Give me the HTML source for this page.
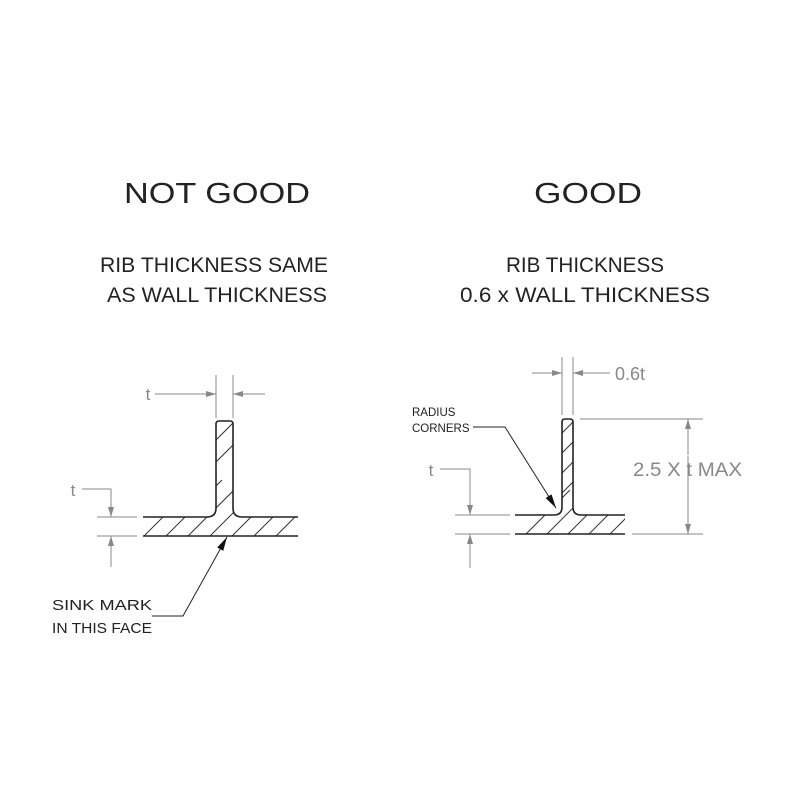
<!DOCTYPE html>
<html><head><style>html,body{margin:0;padding:0;background:#fff}svg{display:block}</style></head><body>
<svg width="800" height="800" viewBox="0 0 800 800" xmlns="http://www.w3.org/2000/svg" font-family="Liberation Sans, sans-serif">
<defs>
<marker id="a" viewBox="0 0 10 6" refX="10" refY="3" markerWidth="10" markerHeight="6" orient="auto" markerUnits="userSpaceOnUse"><path d="M0,0 L10,3 L0,6 z" fill="#888"/></marker>
<marker id="b" viewBox="0 0 14 7" refX="14" refY="3.5" markerWidth="14" markerHeight="7" orient="auto" markerUnits="userSpaceOnUse"><path d="M0,0 L14,3.5 L0,7 z" fill="#111"/></marker>
<clipPath id="c1"><path d="M143,517 H207 Q216,517 216,508 V424 Q216,421 219,421 H230 Q233,421 233,424 V508 Q233,517 242,517 H298 V536 H143 Z"/></clipPath>
<clipPath id="c2"><path d="M515,515 H554 Q562,515 562,507 V422 Q562,419 565,419 H570 Q573,419 573,422 V507 Q573,515 581,515 H625 V534 H515 Z"/></clipPath>
</defs>
<g fill="#222">
<text x="217" y="203" font-size="29" text-anchor="middle" textLength="186" lengthAdjust="spacingAndGlyphs">NOT GOOD</text>
<text x="588" y="203" font-size="29" text-anchor="middle" textLength="108" lengthAdjust="spacingAndGlyphs">GOOD</text>
<text x="214" y="272" font-size="21" text-anchor="middle" textLength="228" lengthAdjust="spacingAndGlyphs">RIB THICKNESS SAME</text>
<text x="217" y="302" font-size="21" text-anchor="middle" textLength="220" lengthAdjust="spacingAndGlyphs">AS WALL THICKNESS</text>
<text x="585" y="272" font-size="21" text-anchor="middle" textLength="158" lengthAdjust="spacingAndGlyphs">RIB THICKNESS</text>
<text x="585" y="302" font-size="21" text-anchor="middle" textLength="250" lengthAdjust="spacingAndGlyphs">0.6 x WALL THICKNESS</text>
<text x="52" y="610" font-size="15" textLength="100" lengthAdjust="spacingAndGlyphs">SINK MARK</text>
<text x="52" y="633" font-size="15" textLength="100" lengthAdjust="spacingAndGlyphs">IN THIS FACE</text>
<text x="412" y="416" font-size="11.5">RADIUS</text>
<text x="412" y="432" font-size="11.5">CORNERS</text>
</g>
<g fill="#888">
<text x="148" y="400" font-size="17" text-anchor="middle">t</text>
<text x="73" y="496" font-size="17" text-anchor="middle">t</text>
<text x="431" y="476" font-size="17" text-anchor="middle">t</text>
<text x="615" y="380" font-size="18">0.6t</text>
</g>
<g clip-path="url(#c1)" stroke="#333" stroke-width="1">
<line x1="120" y1="560" x2="200" y2="480"/><line x1="142" y1="560" x2="222" y2="480"/><line x1="164" y1="560" x2="244" y2="480"/><line x1="186" y1="560" x2="266" y2="480"/><line x1="208" y1="560" x2="288" y2="480"/><line x1="230" y1="560" x2="310" y2="480"/><line x1="252" y1="560" x2="332" y2="480"/><line x1="274" y1="560" x2="354" y2="480"/><line x1="296" y1="560" x2="376" y2="480"/>
<line x1="180" y1="498" x2="260" y2="418"/><line x1="180" y1="476" x2="260" y2="396"/><line x1="180" y1="454" x2="260" y2="374"/><line x1="180" y1="432" x2="260" y2="352"/>
</g>
<path d="M143,517 H207 Q216,517 216,508 V424 Q216,421 219,421 H230 Q233,421 233,424 V508 Q233,517 242,517 H298 M143,536 H298" fill="none" stroke="#222" stroke-width="1.6"/>
<g stroke="#888" stroke-width="1" fill="none">
<line x1="216" y1="375" x2="216" y2="418"/><line x1="233" y1="375" x2="233" y2="418"/>
<line x1="155" y1="394" x2="216" y2="394" marker-end="url(#a)"/>
<line x1="265" y1="394" x2="233" y2="394" marker-end="url(#a)"/>
<line x1="97" y1="517" x2="137" y2="517"/><line x1="97" y1="536" x2="137" y2="536"/>
<polyline points="82,489 111,489 111,517" marker-end="url(#a)"/>
<line x1="111" y1="567" x2="111" y2="536" marker-end="url(#a)"/>
</g>
<polyline points="152,616 183,616 227,537" fill="none" stroke="#222" stroke-width="1" marker-end="url(#b)"/>
<g clip-path="url(#c2)" stroke="#333" stroke-width="1">
<line x1="500" y1="560" x2="570" y2="490"/><line x1="521" y1="560" x2="591" y2="490"/><line x1="542" y1="560" x2="612" y2="490"/><line x1="563" y1="560" x2="633" y2="490"/><line x1="584" y1="560" x2="654" y2="490"/><line x1="605" y1="560" x2="675" y2="490"/><line x1="626" y1="560" x2="696" y2="490"/>
<line x1="540" y1="515" x2="600" y2="455"/><line x1="540" y1="495" x2="600" y2="435"/><line x1="540" y1="475" x2="600" y2="415"/><line x1="540" y1="455" x2="600" y2="395"/>
</g>
<path d="M515,515 H554 Q562,515 562,507 V422 Q562,419 565,419 H570 Q573,419 573,422 V507 Q573,515 581,515 H625 M515,534 H625" fill="none" stroke="#222" stroke-width="1.6"/>
<g stroke="#888" stroke-width="1" fill="none">
<line x1="562" y1="357" x2="562" y2="415"/><line x1="573" y1="357" x2="573" y2="415"/>
<line x1="532" y1="373" x2="562" y2="373" marker-end="url(#a)"/>
<line x1="610" y1="373" x2="573" y2="373" marker-end="url(#a)"/>
<line x1="580" y1="419" x2="703" y2="419"/><line x1="632" y1="534" x2="703" y2="534"/>
<line x1="688" y1="455" x2="688" y2="419" marker-end="url(#a)"/>
<line x1="688" y1="480" x2="688" y2="534" marker-end="url(#a)"/>
<line x1="455" y1="515" x2="510" y2="515"/><line x1="455" y1="534" x2="510" y2="534"/>
<polyline points="440,469 470,469 470,515" marker-end="url(#a)"/>
<line x1="470" y1="568" x2="470" y2="534" marker-end="url(#a)"/>
</g>
<rect x="632" y="456" width="110" height="24" fill="#fff"/>
<text x="633" y="476" font-size="19" fill="#888" textLength="109" lengthAdjust="spacingAndGlyphs">2.5 X t MAX</text>
<line x1="688" y1="456" x2="688" y2="480" stroke="#888" stroke-width="1"/>
<polyline points="473,427 505,427 556,508" fill="none" stroke="#222" stroke-width="1" marker-end="url(#b)"/>
</svg>
</body></html>
